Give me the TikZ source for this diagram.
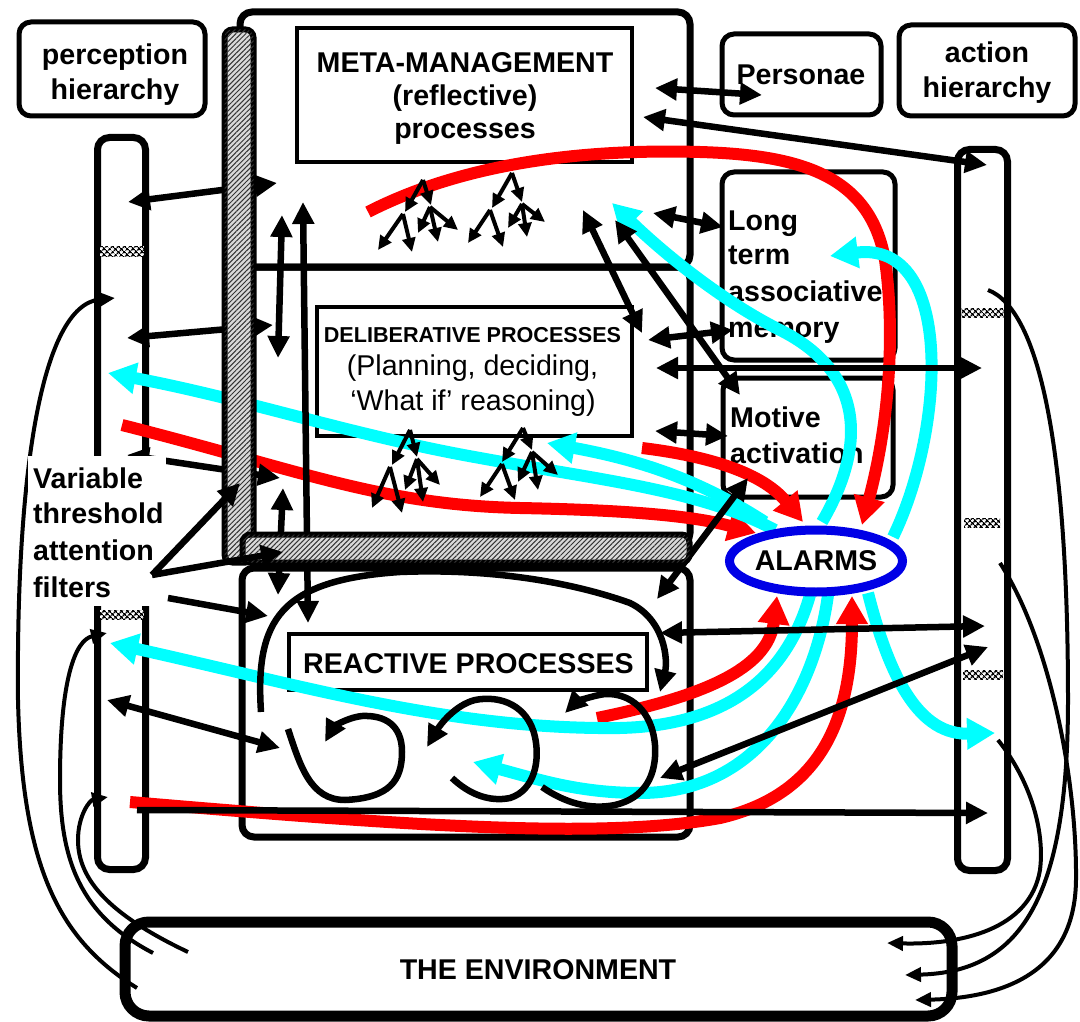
\documentclass[tikz,border=0pt]{standalone}
\usepackage{fontspec}
\setmainfont{Liberation Sans}
\usetikzlibrary{arrows.meta,shapes.geometric,patterns.meta}
\definecolor{cyanc}{RGB}{0,255,255}
\definecolor{redc}{RGB}{255,0,0}
\definecolor{bluec}{RGB}{0,0,230}
\tikzset{
 lbl/.style={font=\fontsize{28.6}{35}\selectfont\bfseries, inner sep=0pt, anchor=base},
 lblw/.style={font=\fontsize{28.6}{35}\selectfont\bfseries, inner sep=0pt, anchor=base west},
 lblr/.style={font=\fontsize{28.6}{35}\selectfont, inner sep=0pt, anchor=base},
 rbox/.style={draw, line width=5pt, rounded corners=12pt, inner sep=0pt},
 lyrbox/.style={draw, line width=7pt, rounded corners=12pt, inner sep=0pt},
 tbox/.style={draw, line width=4pt, inner sep=0pt},
 colbar/.style={draw, line width=7pt, rounded corners=12pt, inner sep=0pt},
 envbox/.style={draw, line width=11pt, rounded corners=24pt, inner sep=0pt},
 strip/.style={draw=black, line width=6pt, rounded corners=8pt, inner sep=0pt, fill=gray!30,
   postaction={pattern={Lines[angle=45,distance=3.5pt,line width=1pt]}, pattern color=black!80}},
 xpatch/.style={inner sep=0pt, fill=white, postaction={pattern={Hatch[angle=45,distance=4pt,line width=1.4pt]}, pattern color=black}},
 barr/.style={line width=6.5pt, -{Triangle[length=22pt,width=21pt]}},
 dbarr/.style={line width=6.5pt, {Triangle[length=22pt,width=21pt]}-{Triangle[length=22pt,width=21pt]}},
 thinarr/.style={line width=4pt, -{Triangle[length=16pt,width=14pt]}},
 rloop/.style={line width=6.5pt, -{Triangle[length=22pt,width=21pt]}},
 treearr/.style={line width=4pt, -{Triangle[length=14pt,width=13pt]}},
 redarr/.style={draw=redc, line width=12pt, -{Triangle[length=28pt,width=30pt]}},
 cyanarr/.style={draw=cyanc, line width=12pt, -{Triangle[length=28pt,width=30pt]}},
}
\begin{document}
\begin{tikzpicture}[x=1pt,y=-1pt]
\useasboundingbox (0,0) rectangle (1080,1022);
\fill[white] (0,0) rectangle (1080,1022);

% ---------- thin feedback curves (environment loops)
\coordinate (lo0) at (137,988); \coordinate (lo1) at (115,298);
\coordinate (lm0) at (153,953); \coordinate (lm1) at (107,633);
\coordinate (li0) at (188,952); \coordinate (li1) at (108,797);
\coordinate (ro0) at (988,290); \coordinate (ro1) at (905,975);
\coordinate (rm0) at (1000,563); \coordinate (rm1) at (915,1000);
\coordinate (ri0) at (998,740); \coordinate (ri1) at (887,943);
\draw[thinarr] (lo0) .. controls (60,940) and (22,870) .. (18,700) .. controls (16,480) and (40,305) .. (lo1);
\draw[thinarr] (lm0) .. controls (80,915) and (60,860) .. (60,780) .. controls (60,680) and (75,640) .. (lm1);
\draw[thinarr] (li0) .. controls (110,915) and (78,880) .. (78,840) .. controls (78,815) and (90,800) .. (li1);
\draw[thinarr] (ro0) .. controls (1040,310) and (1068,450) .. (1068,700) .. controls (1068,900) and (1020,972) .. (ro1);
\draw[thinarr] (rm0) .. controls (1050,640) and (1077,780) .. (1076,880) .. controls (1075,975) and (1000,998) .. (rm1);
\draw[thinarr] (ri0) .. controls (1030,780) and (1045,830) .. (1040,870) .. controls (1030,930) and (960,945) .. (ri1);

% ---------- boxes
\node[rbox, minimum width=186pt, minimum height=94pt] (perc) at (112,69) {};
\node[lbl] (percA) at (115,65) {perception};
\node[lbl] (percB) at (115,100) {hierarchy};
\node[rbox, minimum width=159pt, minimum height=81pt] (pers) at (801.5,74.5) {};
\node[lbl] (persT) at (801,85) {Personae};
\node[rbox, minimum width=176pt, minimum height=91pt] (acth) at (987,70.5) {};
\node[lbl] (acthA) at (987,63) {action};
\node[lbl] (acthB) at (987,98) {hierarchy};

\node[colbar, minimum width=48pt, minimum height=732pt] (pcol) at (121.5,503.5) {};
\node[colbar, minimum width=50pt, minimum height=721pt] (acol) at (982.5,510) {};
\node[xpatch, minimum width=44pt, minimum height=10pt] (pp1) at (122,251) {};
\node[xpatch, minimum width=44pt, minimum height=9pt] (pp2) at (122,614.5) {};
\node[xpatch, minimum width=42pt, minimum height=9pt] (ap1) at (982.5,312.5) {};
\node[xpatch, minimum width=36pt, minimum height=9pt] (ap2) at (982,522.5) {};
\node[xpatch, minimum width=40pt, minimum height=9pt] (ap3) at (983,674.5) {};

\node[lyrbox, minimum width=450pt, minimum height=255pt] (metaL) at (465,139.5) {};
\node[lyrbox, minimum width=450pt, minimum height=278pt] (delibL) at (465,406) {};
\node[lyrbox, minimum width=448pt, minimum height=269pt] (reactL) at (466,702.5) {};
\node[envbox, minimum width=827pt, minimum height=94pt] (env) at (538.5,969) {};
\node[lbl] (envT) at (538,979) {THE ENVIRONMENT};

\node[tbox, minimum width=335pt, minimum height=134pt] (metaT) at (464.5,95) {};
\node[lbl] (metaA) at (465,73) {META-MANAGEMENT};
\node[lbl] (metaB) at (465,106) {(reflective)};
\node[lbl] (metaC) at (465,139) {processes};

\node[tbox, minimum width=315pt, minimum height=129pt] (delibT) at (474.5,371.5) {};
\node[font=\fontsize{21.6}{26}\selectfont\bfseries, inner sep=0pt, anchor=base] (delibA) at (472.5,342) {DELIBERATIVE PROCESSES};
\node[lblr] (delibB) at (472.5,375) {(Planning, deciding,};
\node[lblr] (delibC) at (473,410) {‘What if’ reasoning)};

\node[tbox, minimum width=358pt, minimum height=56pt] (reactT) at (468,662) {};
\node[lbl] (reactA) at (468.5,673) {REACTIVE PROCESSES};

\node[rbox, minimum width=173pt, minimum height=188pt] (ltm) at (808.5,266) {};
\node[lblw] (ltmA) at (728,230) {Long};
\node[lblw] (ltmB) at (728,265) {term};
\node[lblw] (ltmC) at (728,301) {associative};
\node[lblw] (ltmD) at (728,337) {memory};
\node[rbox, minimum width=170pt, minimum height=119pt] (motive) at (808,437.5) {};
\node[lblw] (motA) at (730,427) {Motive};
\node[lblw] (motB) at (730,463) {activation};

% ---------- coloured routes
\coordinate (ra0) at (368,212); \coordinate (ra1) at (862,525);
\coordinate (rb0) at (122,425); \coordinate (rb1) at (756,533);
\coordinate (rc0) at (642,448); \coordinate (rc1) at (803,522);
\coordinate (rd0) at (597,718); \coordinate (rd1) at (777,596);
\coordinate (re0) at (130,802); \coordinate (re1) at (852,596);
\draw[redarr] (ra0) .. controls (450,170) and (560,148) .. (700,152) .. controls (800,155) and (870,175) .. (885,260) .. controls (895,330) and (890,420) .. (ra1);
\draw[redarr] (rb0) .. controls (300,470) and (380,505) .. (520,508) .. controls (620,510) and (690,515) .. (rb1);
\draw[redarr] (rc0) .. controls (700,455) and (760,470) .. (rc1);
\draw[redarr] (rd0) .. controls (700,697) and (768,670) .. (rd1);
\draw[redarr] (re0) .. controls (400,825) and (600,840) .. (720,818) .. controls (820,795) and (852,720) .. (re1);

\coordinate (ca0) at (822,522); \coordinate (ca1) at (612,203);
\coordinate (cb0) at (893,537); \coordinate (cb1) at (830,256);
\coordinate (cc0) at (775,530); \coordinate (cc1) at (108,373);
\coordinate (cd0) at (765,522); \coordinate (cd1) at (547,443);
\coordinate (ce0) at (810,595); \coordinate (ce1) at (110,643);
\coordinate (cf0) at (828,595); \coordinate (cf1) at (473,762);
\coordinate (cg0) at (868,593); \coordinate (cg1) at (995,733);
\draw[cyanarr] (ca0) .. controls (870,440) and (860,370) .. (780,330) .. controls (720,300) and (660,250) .. (ca1);
\draw[cyanarr] (cb0) .. controls (945,430) and (955,240) .. (cb1);
\draw[cyanarr] (cc0) .. controls (700,490) and (600,480) .. (480,458) .. controls (350,435) and (250,400) .. (cc1);
\draw[cyanarr] (cd0) .. controls (700,480) and (640,460) .. (cd1);
\draw[cyanarr] (ce0) .. controls (790,665) and (740,725) .. (620,728) .. controls (450,730) and (300,685) .. (ce1);
\draw[cyanarr] (cf0) .. controls (815,690) and (760,793) .. (640,793) .. controls (580,793) and (540,780) .. (cf1);
\draw[cyanarr] (cg0) .. controls (890,680) and (920,735) .. (cg1);

% ---------- black arrows
\coordinate (a1a) at (128,202); \coordinate (a1b) at (277,183);
\coordinate (a2a) at (127,338); \coordinate (a2b) at (273,325);
\coordinate (a3a) at (127,455); \coordinate (a3b) at (280,478);
\coordinate (v1a) at (282,215); \coordinate (v1b) at (278,358);
\coordinate (v2a) at (303,202); \coordinate (v2b) at (308,623);
\coordinate (v3a) at (283,488); \coordinate (v3b) at (278,595);
\coordinate (a6a) at (107,700); \coordinate (a6b) at (280,748);
\coordinate (p1a) at (655,88);  \coordinate (p1b) at (762,95);
\coordinate (p2a) at (643,117); \coordinate (p2b) at (987,165);
\coordinate (m1a) at (653,213); \coordinate (m1b) at (723,227);
\coordinate (m2a) at (648,340); \coordinate (m2b) at (733,330);
\coordinate (m3a) at (656,368); \coordinate (m3b) at (982,368);
\coordinate (m4a) at (655,431); \coordinate (m4b) at (728,436);
\coordinate (d1a) at (583,210); \coordinate (d1b) at (642,333);
\coordinate (d2a) at (615,220); \coordinate (d2b) at (740,395);
\coordinate (d3a) at (657,599); \coordinate (d3b) at (748,478);
\coordinate (h1a) at (660,633); \coordinate (h1b) at (985,626);
\coordinate (h2a) at (660,778); \coordinate (h2b) at (988,647);
\coordinate (h3a) at (137,810); \coordinate (h3b) at (988,813);
\draw[dbarr] (a1a) -- (a1b);
\draw[dbarr] (a2a) -- (a2b);
\draw[dbarr] (a3a) -- (a3b);
\draw[dbarr] (v1a) -- (v1b);
\draw[dbarr] (v2a) -- (v2b);
\draw[dbarr] (v3a) -- (v3b);
\draw[dbarr] (a6a) -- (a6b);
\draw[dbarr] (p1a) -- (p1b);
\draw[dbarr] (p2a) -- (p2b);
\draw[dbarr] (m1a) -- (m1b);
\draw[dbarr] (m2a) -- (m2b);
\draw[dbarr] (m3a) -- (m3b);
\draw[dbarr] (m4a) -- (m4b);
\draw[dbarr] (d1a) -- (d1b);
\draw[dbarr] (d2a) -- (d2b);
\draw[dbarr] (d3a) -- (d3b);
\draw[dbarr] (h1a) -- (h1b);
\draw[dbarr] (h2a) -- (h2b);
\draw[barr] (h3a) -- (h3b);

% ---------- trees of alternatives
\draw[treearr] (423,180) -- (405,212);
\draw[treearr] (423,180) -- (431,205);
\draw[treearr] (403,214) -- (378,250);
\draw[treearr] (403,214) -- (412,252);
\draw[treearr] (430,207) -- (418,233);
\draw[treearr] (430,207) -- (438,242);
\draw[treearr] (430,207) -- (458,230);
\draw[treearr] (512,173) -- (492,208);
\draw[treearr] (512,173) -- (522,202);
\draw[treearr] (490,210) -- (468,243);
\draw[treearr] (490,210) -- (503,247);
\draw[treearr] (522,204) -- (508,228);
\draw[treearr] (522,204) -- (527,237);
\draw[treearr] (522,204) -- (545,222);
\draw[treearr] (410,430) -- (392,465);
\draw[treearr] (410,430) -- (417,457);
\draw[treearr] (390,467) -- (372,508);
\draw[treearr] (390,467) -- (402,513);
\draw[treearr] (417,459) -- (405,490);
\draw[treearr] (417,459) -- (423,502);
\draw[treearr] (417,459) -- (440,485);
\draw[treearr] (523,428) -- (502,462);
\draw[treearr] (523,428) -- (532,450);
\draw[treearr] (502,464) -- (480,497);
\draw[treearr] (502,464) -- (515,500);
\draw[treearr] (532,452) -- (518,482);
\draw[treearr] (532,452) -- (538,490);
\draw[treearr] (532,452) -- (558,475);

% ---------- reactive loops
\coordinate (la0) at (261,712); \coordinate (la1) at (660,692);
\coordinate (lb0) at (288,729); \coordinate (lb1) at (325,742);
\coordinate (lc0) at (452,778); \coordinate (lc1) at (427,747);
\coordinate (ld0) at (542,787); \coordinate (ld1) at (565,713);
\draw[rloop] (la0) .. controls (255,620) and (280,580) .. (400,572) .. controls (500,568) and (580,585) .. (630,603) .. controls (665,620) and (668,660) .. (la1);
\draw[rloop] (lb0) .. controls (300,765) and (310,800) .. (345,800) .. controls (390,798) and (402,780) .. (402,752) .. controls (402,725) and (385,715) .. (362,716) .. controls (345,718) and (333,728) .. (lb1);
\draw[rloop] (lc0) .. controls (470,795) and (490,802) .. (510,798) .. controls (535,790) and (540,760) .. (535,737) .. controls (528,705) and (500,695) .. (475,700) .. controls (455,705) and (440,725) .. (lc1);
\draw[rloop] (ld0) .. controls (565,803) and (590,810) .. (615,805) .. controls (645,798) and (657,775) .. (655,745) .. controls (652,710) and (630,693) .. (605,694) .. controls (590,696) and (575,703) .. (ld1);

% ---------- attention filter strips
\node[strip, minimum width=29pt, minimum height=533pt] (vstrip) at (239,296) {};
\node[strip, minimum width=447pt, minimum height=28pt] (hstrip) at (466,548.5) {};

% ---------- attention filter label
\fill[white] (28,456) rectangle (166,606);
\node[lblw] (vtA) at (33,488) {Variable};
\node[lblw] (vtB) at (33,523) {threshold};
\node[lblw] (vtC) at (33,560) {attention};
\node[lblw] (vtD) at (33,597) {filters};
\coordinate (f0) at (152,575); \coordinate (f1) at (240,483); \coordinate (f2) at (283,552);
\coordinate (f3) at (168,598); \coordinate (f4) at (268,616);
\draw[barr] (f0) -- (f1);
\draw[barr] (f0) -- (f2);
\draw[barr] (f3) -- (f4);

% ---------- alarms
\node[ellipse, draw=bluec, line width=9pt, fill=white, minimum width=145pt, minimum height=62pt, inner sep=0pt,
  font=\fontsize{28.6}{35}\selectfont\bfseries] (alarms) at (816,561) {ALARMS};
\end{tikzpicture}
\end{document}
